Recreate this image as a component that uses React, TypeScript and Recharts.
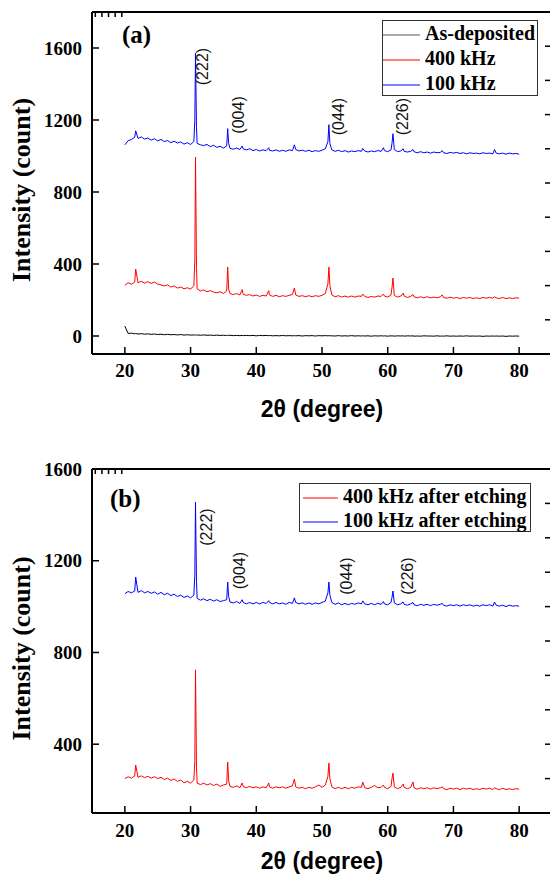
import React from 'react';
import { LineChart, Line, XAxis, YAxis, Legend, ReferenceDot } from 'recharts';

// 2θ positions (degree)
const angles = [
  20, 20.5, 21, 21.5, 21.65, 22, 22.5, 23, 23.5, 24,
  24.5, 25, 25.5, 26, 26.5, 27, 27.5, 28, 28.5, 29,
  29.5, 30, 30.5, 30.65, 30.75, 30.9, 31, 31.5, 32, 32.5,
  33, 33.5, 34, 34.5, 35, 35.5, 35.65, 35.8, 36, 36.5,
  37, 37.5, 37.85, 38, 38.5, 39, 39.5, 40, 40.5, 41,
  41.5, 41.9, 42, 42.5, 43, 43.5, 44, 44.5, 45, 45.5,
  45.8, 46, 46.5, 47, 47.5, 48, 48.5, 49, 49.5, 50,
  50.5, 50.9, 51.05, 51.2, 51.5, 52, 52.5, 53, 53.5, 54,
  54.5, 55, 55.5, 56, 56.2, 56.5, 57, 57.5, 58, 58.5,
  59, 59.35, 59.5, 60, 60.5, 60.65, 60.8, 61, 61.5, 62,
  62.35, 62.5, 63, 63.5, 63.85, 64, 64.5, 65, 65.5, 66,
  66.5, 67, 67.5, 68, 68.3, 68.5, 69, 69.5, 70, 70.5,
  71, 71.5, 72, 72.5, 73, 73.5, 74, 74.5, 75, 75.5,
  76, 76.25, 76.5, 77, 77.5, 78, 78.5, 79, 79.5, 80,
];

// Panel (a)
const asDeposited = [
  55, 14, 16, 12, 14, 11, 13, 10, 12, 9,
  11, 8, 10, 7, 9, 7, 8, 6, 8, 5,
  7, 5, 6, 5, 6, 5, 6, 4, 6, 4,
  5, 3, 5, 3, 4, 3, 4, 3, 4, 2,
  3, 2, 3, 2, 3, 2, 3, 1, 3, 2,
  3, 2, 3, 1, 2, 1, 3, 1, 2, 1,
  2, 1, 2, 0, 2, 1, 2, 0, 2, 1,
  2, 1, 2, 1, 1, 0, 2, 0, 1, 0,
  2, 0, 1, 0, 1, 0, 1, -1, 1, 0,
  1, 0, 1, -1, 1, 0, 1, -1, 1, 0,
  1, -1, 1, 0, 1, -1, 0, -1, 1, 0,
  0, -1, 1, -1, 0, -1, 1, -1, 0, -1,
  0, -1, 1, -1, 0, -1, 0, -2, 0, -1,
  0, -1, 0, -1, 0, -2, 0, -1, 0, -1,
];

const k400 = [
  282, 296, 288, 300, 372, 296, 304, 294, 302, 292,
  300, 288, 284, 278, 284, 272, 278, 266, 272, 262,
  268, 260, 280, 420, 994, 380, 262, 250, 256, 246,
  252, 244, 240, 246, 236, 250, 383, 260, 236, 230,
  236, 228, 258, 232, 226, 230, 222, 228, 220, 226,
  222, 252, 228, 220, 226, 218, 224, 220, 226, 230,
  267, 228, 220, 224, 218, 224, 218, 224, 220, 226,
  236, 290, 383, 280, 228, 218, 224, 216, 222, 216,
  222, 216, 222, 220, 233, 220, 214, 220, 216, 222,
  220, 233, 222, 216, 228, 270, 322, 226, 216, 222,
  238, 222, 214, 220, 230, 218, 212, 218, 212, 218,
  212, 216, 212, 218, 228, 214, 210, 216, 210, 214,
  208, 214, 210, 214, 208, 212, 208, 214, 210, 214,
  210, 218, 212, 208, 214, 208, 212, 208, 212, 210,
];

const k100 = [
  1062, 1085, 1092, 1104, 1140, 1098, 1106, 1094, 1100, 1088,
  1096, 1084, 1092, 1080, 1086, 1074, 1082, 1072, 1078, 1066,
  1074, 1064, 1080, 1200, 1572, 1160, 1070, 1062, 1058, 1064,
  1052, 1060, 1048, 1054, 1044, 1056, 1152, 1070, 1042, 1038,
  1044, 1036, 1055, 1040, 1034, 1040, 1030, 1036, 1028, 1034,
  1030, 1046, 1032, 1028, 1034, 1026, 1032, 1026, 1034, 1030,
  1062, 1036, 1028, 1032, 1026, 1032, 1024, 1030, 1026, 1032,
  1040, 1080, 1174, 1070, 1034, 1026, 1032, 1024, 1030, 1022,
  1028, 1024, 1030, 1026, 1042, 1028, 1022, 1028, 1024, 1030,
  1026, 1046, 1030, 1024, 1034, 1070, 1124, 1036, 1024, 1028,
  1040, 1026, 1022, 1026, 1036, 1024, 1018, 1024, 1018, 1022,
  1016, 1022, 1018, 1020, 1030, 1018, 1014, 1020, 1016, 1020,
  1014, 1018, 1012, 1018, 1014, 1016, 1012, 1018, 1014, 1016,
  1012, 1036, 1016, 1012, 1016, 1010, 1016, 1012, 1014, 1010,
];

// Panel (b)
const k400Etched = [
  250, 258, 252, 262, 309, 256, 262, 254, 260, 252,
  258, 250, 256, 246, 252, 242, 248, 238, 244, 232,
  238, 230, 244, 330, 724, 300, 230, 224, 230, 222,
  228, 220, 226, 216, 222, 226, 322, 240, 216, 212,
  218, 210, 231, 216, 210, 216, 210, 214, 208, 214,
  210, 231, 214, 208, 214, 210, 214, 208, 214, 218,
  248, 214, 208, 212, 206, 212, 208, 214, 222, 212,
  222, 260, 318, 250, 214, 206, 212, 206, 212, 206,
  212, 208, 214, 212, 235, 210, 206, 212, 220, 210,
  212, 222, 212, 206, 216, 250, 274, 214, 206, 212,
  226, 212, 206, 212, 235, 210, 204, 210, 206, 210,
  204, 210, 206, 210, 214, 206, 202, 208, 204, 208,
  202, 208, 204, 208, 202, 206, 202, 208, 204, 208,
  202, 210, 206, 202, 208, 202, 206, 202, 206, 204,
];

const k100Etched = [
  1056, 1066, 1060, 1068, 1129, 1062, 1070, 1060, 1066, 1058,
  1064, 1054, 1062, 1052, 1058, 1048, 1054, 1044, 1050, 1040,
  1046, 1038, 1050, 1140, 1456, 1110, 1036, 1028, 1034, 1026,
  1032, 1024, 1030, 1022, 1026, 1030, 1107, 1044, 1020, 1016,
  1022, 1014, 1030, 1018, 1012, 1018, 1012, 1018, 1012, 1018,
  1014, 1026, 1018, 1012, 1018, 1012, 1016, 1010, 1018, 1014,
  1038, 1018, 1012, 1016, 1010, 1016, 1010, 1016, 1012, 1018,
  1024, 1060, 1107, 1050, 1018, 1010, 1016, 1008, 1014, 1008,
  1014, 1010, 1016, 1012, 1025, 1012, 1008, 1014, 1008, 1014,
  1010, 1022, 1012, 1008, 1018, 1040, 1068, 1016, 1008, 1012,
  1020, 1010, 1006, 1012, 1018, 1008, 1004, 1010, 1006, 1010,
  1004, 1010, 1006, 1010, 1014, 1006, 1002, 1008, 1004, 1008,
  1002, 1008, 1004, 1008, 1002, 1006, 1002, 1008, 1004, 1008,
  1002, 1020, 1006, 1002, 1006, 1000, 1006, 1002, 1004, 1002,
];

const xTicks = [20, 30, 40, 50, 60, 70, 80];
const yTicksA = [0, 400, 800, 1200, 1600];
const yTicksB = [400, 800, 1200, 1600];
const frameTicks = [1, 2, 3, 4, 5, 6, 7, 8, 9];

const legendOrderA = ['As-deposited', '400 kHz', '100 kHz'];
const legendOrderB = ['400 kHz after etching', '100 kHz after etching'];

const peakLabelsA = [
  { hkl: '(222)', angle: 32.12, value: 1497 },
  { hkl: '(004)', angle: 37.45, value: 1228 },
  { hkl: '(044)', angle: 52.74, value: 1219 },
  { hkl: '(226)', angle: 62.48, value: 1219 },
];
const peakLabelsB = [
  { hkl: '(222)', angle: 32.58, value: 1347 },
  { hkl: '(004)', angle: 37.7, value: 1157 },
  { hkl: '(044)', angle: 53.94, value: 1133 },
  { hkl: '(226)', angle: 63.2, value: 1133 },
];

const dataA = angles.map((a, i) => ({ angle: a, asDep: asDeposited[i], k400: k400[i], k100: k100[i] }));
const dataB = angles.map((a, i) => ({ angle: a, k400e: k400Etched[i], k100e: k100Etched[i] }));

const SERIF = '"Liberation Serif", "Times New Roman", serif';
const SANS = '"Liberation Sans", Arial, sans-serif';

const tickStyle = { fill: '#000', fontSize: 19, fontWeight: 'bold', fontFamily: SERIF };
const axisLineStyle = { stroke: '#000', strokeWidth: 2 };
const tickLineStyle = { stroke: '#000', strokeWidth: 1.5 };
const blank = () => '';

const makeYTitle = (dy: number) => (props: any) => {
  const vb = props.viewBox || { x: 32, y: 12, width: 60, height: 342 };
  const bx = vb.x - 2;
  const cy = vb.y + vb.height / 2 + dy;
  return (
    <text x={bx} y={cy} transform={`rotate(-90 ${bx} ${cy})`} textAnchor="middle"
      fill="#000" fontSize={26} fontWeight="bold" fontFamily={SERIF}>
      Intensity (count)
    </text>
  );
};

const makeXTitle = (up: number) => (props: any) => {
  const vb = props.viewBox || { x: 92, y: 354, width: 460, height: 76 };
  const cx = vb.x + vb.width / 2;
  const by = vb.y + vb.height - up;
  return (
    <text x={cx} y={by} textAnchor="middle" fill="#000" fontSize={23} fontWeight="bold" fontFamily={SANS}>
      2θ (degree)
    </text>
  );
};

const peakShape = (text: string) => (p: any) => {
  const bx = p.cx + 4;
  return (
    <text x={bx} y={p.cy} transform={`rotate(-90 ${bx} ${p.cy})`} textAnchor="middle"
      fill="#111" fontSize={16} fontFamily={SANS}>
      {text}
    </text>
  );
};

const panelShape = (text: string) => (p: any) => (
  <text x={p.cx} y={p.cy} fill="#000" fontSize={25} fontWeight="bold" fontFamily={SERIF}>{text}</text>
);

const makeLegend = (order: string[], w: number, h: number, rows: number[], lineX1: number, lineX2: number, textX: number) =>
  (props: any) => {
    const payload = props.payload || [];
    const items = order
      .map((name) => payload.find((p: any) => p.value === name))
      .filter(Boolean);
    return (
      <svg width={w} height={h} style={{ display: 'block' }}>
        <rect x={0.5} y={0.5} width={w - 1} height={h - 1} fill="#fff" stroke="#333" strokeWidth={1} />
        {items.map((p: any, i: number) => (
          <g key={i}>
            <line x1={lineX1} x2={lineX2} y1={rows[i] - 5} y2={rows[i] - 5}
              stroke={p.color === '#000' ? '#555' : p.color} strokeWidth={1} />
            <text x={textX} y={rows[i]} fill="#000" fontSize={20} fontWeight="bold" fontFamily={SERIF}>{p.value}</text>
          </g>
        ))}
      </svg>
    );
  };

export default function App() {
  return (
    <div style={{ position: 'absolute', left: 0, top: 0, width: 550, height: 883, overflow: 'hidden', background: '#fff' }}>
      <div style={{ position: 'absolute', left: 0, top: 0 }}>
        <LineChart width={560} height={430} data={dataA} margin={{ top: 10, right: 0, bottom: 0, left: 32 }}>
          <XAxis dataKey="angle" type="number" domain={[15, 85]} allowDataOverflow ticks={xTicks} height={76}
            axisLine={axisLineStyle} tickLine={tickLineStyle} tickSize={-7} tickMargin={17} tick={tickStyle}
            label={makeXTitle(13)} />
          <XAxis xAxisId="top" orientation="top" type="number" domain={[0, 10]} allowDataOverflow ticks={frameTicks}
            height={2} axisLine={axisLineStyle} tickLine={tickLineStyle} tickSize={-5} tickFormatter={blank} />
          <YAxis type="number" domain={[-100, 1800]} allowDataOverflow ticks={yTicksA} width={60}
            axisLine={axisLineStyle} tickLine={tickLineStyle} tickSize={-7} tickMargin={17} tick={tickStyle}
            label={makeYTitle(7)} />
          <YAxis yAxisId="right" orientation="right" type="number" domain={[0, 10]} allowDataOverflow ticks={frameTicks}
            width={8} axisLine={axisLineStyle} tickLine={tickLineStyle} tickSize={-7} tickFormatter={blank} />
          <Line dataKey="asDep" name="As-deposited" stroke="#000" strokeWidth={1} dot={false} activeDot={false} isAnimationActive={false} />
          <Line dataKey="k400" name="400 kHz" stroke="#ff0000" strokeWidth={1} dot={false} activeDot={false} isAnimationActive={false} />
          <Line dataKey="k100" name="100 kHz" stroke="#0000ff" strokeWidth={1} dot={false} activeDot={false} isAnimationActive={false} />
          {peakLabelsA.map((p) => (
            <ReferenceDot key={p.hkl} x={p.angle} y={p.value} r={0} shape={peakShape(p.hkl)} />
          ))}
          <ReferenceDot x={19.57} y={1628} r={0} shape={panelShape('(a)')} />
          <Legend layout="horizontal" verticalAlign="middle" align="center"
            wrapperStyle={{ left: 382, top: 20, width: 156, height: 76 }}
            content={makeLegend(legendOrderA, 156, 76, [20, 45, 70], 1, 38, 43)} />
        </LineChart>
      </div>
      <div style={{ position: 'absolute', left: 0, top: 457 }}>
        <LineChart width={560} height={432} data={dataB} margin={{ top: 10, right: 0, bottom: 0, left: 32 }}>
          <XAxis dataKey="angle" type="number" domain={[15, 85]} allowDataOverflow ticks={xTicks} height={76}
            axisLine={axisLineStyle} tickLine={tickLineStyle} tickSize={-7} tickMargin={18} tick={tickStyle}
            label={makeXTitle(20)} />
          <XAxis xAxisId="top" orientation="top" type="number" domain={[0, 10]} allowDataOverflow ticks={frameTicks}
            height={2} axisLine={axisLineStyle} tickLine={tickLineStyle} tickSize={-5} tickFormatter={blank} />
          <YAxis type="number" domain={[100, 1600]} allowDataOverflow ticks={yTicksB} width={60}
            axisLine={axisLineStyle} tickLine={tickLineStyle} tickSize={-7} tickMargin={17} tick={tickStyle}
            label={makeYTitle(7.5)} />
          <YAxis yAxisId="right" orientation="right" type="number" domain={[0, 10]} allowDataOverflow ticks={frameTicks}
            width={8} axisLine={axisLineStyle} tickLine={tickLineStyle} tickSize={-7} tickFormatter={blank} />
          <Line dataKey="k400e" name="400 kHz after etching" stroke="#ff0000" strokeWidth={1} dot={false} activeDot={false} isAnimationActive={false} />
          <Line dataKey="k100e" name="100 kHz after etching" stroke="#0000ff" strokeWidth={1} dot={false} activeDot={false} isAnimationActive={false} />
          {peakLabelsB.map((p) => (
            <ReferenceDot key={p.hkl} x={p.angle} y={p.value} r={0} shape={peakShape(p.hkl)} />
          ))}
          <ReferenceDot x={17.74} y={1434} r={0} shape={panelShape('(b)')} />
          <Legend layout="horizontal" verticalAlign="middle" align="center"
            wrapperStyle={{ left: 299, top: 26, width: 232, height: 49 }}
            content={makeLegend(legendOrderB, 232, 49, [20, 44], 4, 39, 44)} />
        </LineChart>
      </div>
    </div>
  );
}
